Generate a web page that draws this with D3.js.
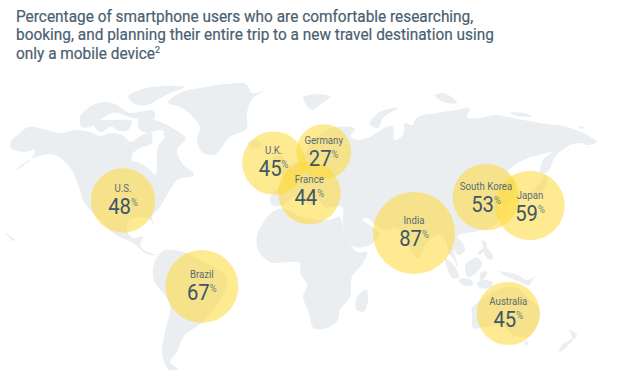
<!DOCTYPE html>
<html>
<head>
<meta charset="utf-8">
<script src="https://cdn.jsdelivr.net/npm/d3@7"></script>
<style>
  html, body { margin: 0; padding: 0; background: #fff; }
  svg { display: block; font-family: Roboto, sans-serif; }
</style>
</head>
<body>
<svg id="chart" width="637" height="392">
  <defs><filter id="soft"><feGaussianBlur stdDeviation="0.4"></feGaussianBlur></filter></defs>
</svg>
<script>
// data
const countries = ["U.S.", "U.K.", "Germany", "France", "India", "South Korea", "Japan", "Brazil", "Australia"];
const shares = [48, 45, 27, 44, 87, 53, 59, 67, 45];

const titleLines = [
  "Percentage of smartphone users who are comfortable researching,",
  "booking, and planning their entire trip to a new travel destination using",
  "only a mobile device"
];

// where each bubble sits on the map, and the baseline of its number
const bubbleX = [123, 273.7, 323.7, 309.3, 414, 486, 530, 201.8, 508.3];
const bubbleY = [200.5, 163, 151.7, 193, 233, 197, 205.5, 286.5, 313.5];
const numberY = [214, 176, 166, 205, 246, 212, 221, 300, 327];

// backdrop map, traced outlines in page pixels
const land = [
  // north america
  [[11,142],[20,133],[28,127],[43,129],[60,133],[77,130],[90,132],[100,136],[110,133],[122,135],[131,142],[140,136],[150,133],[160,137],[165,132],[185,139],[177,150],[182,163],[194,175],[177,180],[170,190],[160,207],[152,218],[155,226],[150,220],[143,217],[128,222],[127,230],[133,238],[143,237],[140,245],[150,253],[158,255],[150,255],[133,243],[113,233],[100,220],[83,200],[80,190],[68,165],[55,155],[33,158],[13,172],[30,160],[35,150],[24,152],[10,146]],
  // south america
  [[157,257],[163,251],[183,252],[200,260],[227,279],[217,305],[200,324],[183,337],[177,352],[170,362],[178,369],[170,370],[163,359],[162,350],[165,332],[170,305],[153,277],[153,269]],
  // greenland
  [[168,103],[182,92],[200,88],[227,84],[247,85],[252,93],[265,90],[253,98],[247,113],[247,128],[230,137],[213,155],[203,153],[197,138],[200,128],[193,117],[180,107]],
  // arctic islands
  [[128,97],[140,90],[167,86],[185,87],[170,93],[157,100],[147,105],[133,103]],
  [[80,117],[88,108],[107,102],[117,105],[127,112],[155,113],[155,117],[133,118],[113,113],[100,120],[90,127],[82,127]],
  [[138,120],[150,119],[167,125],[185,140],[177,143],[160,130],[147,133],[140,130]],
  [[93,123],[113,120],[132,122],[128,130],[117,130],[113,127],[100,132]],
  // hawaii
  [[5,233],[12,237],[15,240],[14,241],[10,238]],
  // iceland, britain, ireland, svalbard
  [[248,143],[257,140],[263,145],[253,148]],
  [[272,158],[280,155],[285,172],[275,175],[278,165]],
  [[265,165],[271,163],[270,172],[264,172]],
  [[303,98],[330,97],[320,105],[312,110]],
  // russian arctic
  [[370,125],[378,113],[398,108],[383,118],[378,128]],
  [[435,95],[443,93],[457,103],[447,103]],
  [[510,113],[523,113],[532,116],[517,116]],
  [[578,127],[585,127],[582,129]],
  // eurasia
  [[270,200],[276,190],[282,185],[283,170],[300,160],[315,138],[335,127],[355,130],[350,136],[360,140],[367,138],[393,127],[395,140],[403,135],[405,123],[413,125],[415,120],[437,113],[457,110],[470,109],[467,117],[480,118],[493,115],[513,118],[540,123],[567,127],[587,135],[597,142],[588,145],[580,143],[570,145],[565,148],[555,157],[547,172],[541,174],[543,160],[552,152],[540,155],[528,158],[518,163],[508,172],[513,180],[515,195],[503,205],[497,198],[500,215],[495,225],[482,230],[458,238],[461,241],[465,250],[458,255],[454,249],[458,268],[453,258],[450,255],[445,240],[440,235],[425,245],[418,258],[410,250],[405,235],[395,228],[385,230],[372,222],[368,218],[363,219],[374,228],[380,233],[373,243],[355,247],[343,225],[342,207],[325,207],[318,200],[310,205],[300,195],[292,198],[283,205],[272,205]],
  // africa, madagascar
  [[270,214],[278,209],[303,217],[330,220],[340,217],[342,223],[350,243],[357,252],[367,252],[363,263],[352,277],[350,297],[340,310],[338,320],[327,328],[315,329],[308,310],[303,297],[307,285],[300,272],[300,263],[290,262],[270,262],[258,250],[257,235],[263,223]],
  [[367,290],[368,295],[362,312],[357,310],[357,297]],
  // japan
  [[530,195],[540,183],[545,175],[547,183],[537,195]],
  // south east asia
  [[482,240],[486,242],[487,248],[492,253],[492,260],[487,258],[483,252],[480,255],[478,253],[483,248]],
  [[465,267],[478,258],[482,263],[477,272],[468,277]],
  [[445,258],[452,263],[458,278],[453,278],[447,267]],
  [[459,280],[473,282],[473,284],[460,283]],
  [[481,272],[487,272],[485,278],[481,280]],
  [[477,284],[493,283],[493,285],[478,286]],
  [[499,271],[505,272],[512,273],[518,275],[527,280],[535,277],[532,280],[530,285],[520,282],[510,278],[505,276]],
  // australia, tasmania, new zealand
  [[472,308],[477,303],[497,290],[518,288],[527,297],[540,310],[538,323],[527,337],[513,335],[502,325],[485,327],[473,328],[472,317]],
  [[524,342],[528,342],[527,346]],
  [[569,330],[577,335],[572,341],[563,350],[559,352],[562,345],[572,337]]
];

// water cut out of the land
const water = [
  // hudson bay
  [[132,155],[140,148],[152,143],[153,132],[165,137],[160,143],[157,152],[157,163],[155,175],[150,170],[140,163],[132,160]]
];

var svg = d3.select("#chart");

var lineGen = d3.line().curve(d3.curveCatmullRomClosed.alpha(1));

var map = svg.append("g").attr("filter", "url(#soft)");

map.append("g")
  .selectAll("path")
  .data(land)
  .enter()
  .append("path")
  .attr("d", lineGen)
  .attr("fill", "#ebeef1");

map.append("g")
  .selectAll("path")
  .data(water)
  .enter()
  .append("path")
  .attr("d", lineGen)
  .attr("fill", "#fff");

// radius grows linearly with the share
var r = d3.scaleLinear().domain([27, 87]).range([27.5, 41]);

var items = countries.map((c, i) => ({
  name: c,
  share: shares[i],
  x: bubbleX[i],
  y: bubbleY[i],
  ny: numberY[i]
}));

svg.append("g")
  .selectAll("circle")
  .data(items)
  .enter()
  .append("circle")
  .attr("cx", (d) => d.x)
  .attr("cy", (d) => d.y)
  .attr("r", (d) => r(d.share))
  .attr("fill", "#fdd835")
  .attr("fill-opacity", 0.55);

var labels = svg.append("g")
  .selectAll("g")
  .data(items)
  .enter()
  .append("g");

// the reference type is a little condensed, hence the x scale
labels.append("text")
  .attr("transform", (d) => `translate(${d.x},${d.ny - 22}) scale(0.92,1)`)
  .attr("text-anchor", "middle")
  .style("font-size", "10.5px")
  .style("fill", "#5a6b76")
  .text((d) => d.name);

var num = labels.append("text")
  .attr("transform", (d) => `translate(${d.x},${d.ny}) scale(0.9,1)`)
  .attr("text-anchor", "middle")
  .style("font-size", "22.5px")
  .style("fill", "#3f5667");

num.append("tspan").text((d) => d.share);

num.append("tspan")
  .attr("dy", -8)
  .style("font-size", "10.5px")
  .style("fill", "#6f7f88")
  .text("%");

// title
var title = svg.append("g")
  .selectAll("text")
  .data(titleLines)
  .enter()
  .append("text")
  .attr("transform", (d, i) => `translate(16,${21.5 + i * 18.6}) scale(0.934,1)`)
  .style("font-size", "16.5px")
  .style("fill", "#4a6070")
  .style("stroke", "#4a6070")
  .style("stroke-width", 0.2)
  .text((d) => d);

title.filter((d, i) => i === 2)
  .append("tspan")
  .attr("dy", -6)
  .style("font-size", "9.5px")
  .text("2");
</script>
</body>
</html>
